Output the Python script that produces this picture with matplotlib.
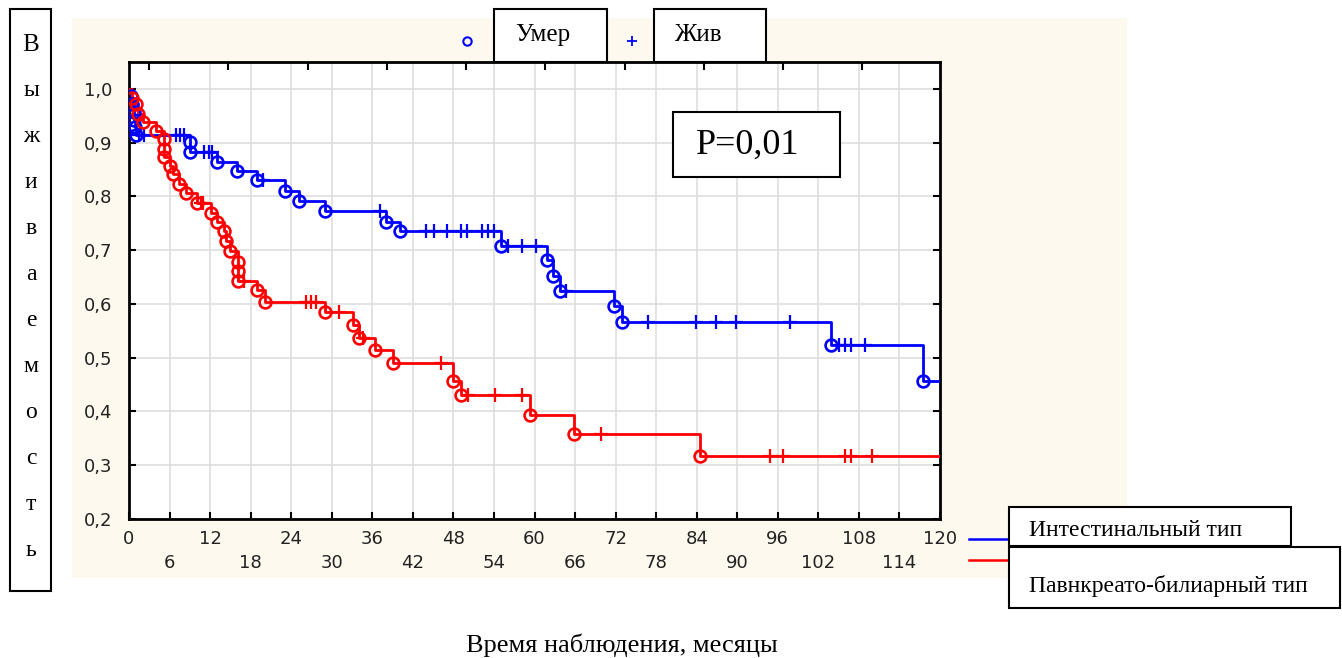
import numpy as np
import matplotlib.pyplot as plt
from matplotlib.patches import Rectangle
from matplotlib.ticker import MultipleLocator, FixedLocator, FuncFormatter

W, H = 1342, 658

# Интестинальный тип: моменты смерти, выживаемость после них, цензурированные
int_death_t = [0.3, 0.5, 0.7, 0.8, 0.9, 1.0, 9.0, 9.0, 13.0, 16.0, 19.0, 23.1,
               25.1, 29.0, 38.0, 40.1, 55.0, 61.8, 62.8, 63.8, 71.8, 72.9,
               103.8, 117.5]
int_surv = [0.986, 0.971, 0.957, 0.943, 0.929, 0.914, 0.901, 0.883, 0.864,
            0.847, 0.830, 0.810, 0.791, 0.773, 0.753, 0.735, 0.708, 0.681,
            0.652, 0.625, 0.596, 0.566, 0.523, 0.457]
int_cens_t = [1.5, 2.2, 7.0, 7.6, 8.1, 11.1, 11.8, 12.3, 19.9, 37.1, 44.0,
              45.2, 47.1, 49.1, 50.0, 52.2, 53.1, 54.0, 56.1, 58.2, 60.2,
              64.6, 76.8, 83.9, 86.9, 89.8, 97.8, 105.0, 106.0, 106.8, 108.9]

# Панкреато-билиарный тип
pb_death_t = [0.4, 1.1, 1.4, 2.1, 4.0, 5.2, 5.2, 5.2, 6.1, 6.5, 7.4, 8.4,
              10.0, 12.1, 13.0, 14.0, 14.4, 15.0, 16.2, 16.2, 16.2, 19.0,
              20.1, 29.0, 33.1, 34.1, 36.4, 39.1, 48.0, 49.1, 59.4, 65.8, 84.5]
pb_surv = [0.983, 0.972, 0.954, 0.939, 0.921, 0.906, 0.889, 0.873, 0.856,
           0.841, 0.824, 0.806, 0.788, 0.770, 0.752, 0.735, 0.717, 0.699,
           0.678, 0.661, 0.643, 0.626, 0.604, 0.585, 0.561, 0.537, 0.514,
           0.490, 0.457, 0.430, 0.394, 0.359, 0.318]
pb_cens_t = [10.6, 11.0, 17.0, 26.2, 26.9, 27.6, 31.0, 34.6, 46.2, 50.1,
             54.2, 58.2, 69.8, 94.9, 96.8, 105.9, 106.9, 109.9]

groups = ['Интестинальный тип', 'Павнкреато-билиарный тип']
colors = ['#0000ff', '#ff0000']
y_title = 'Выживаемость'
x_title = 'Время наблюдения, месяцы'
p_text = 'P=0,01'
t_max = 120

serif = 'Liberation Serif'

fig = plt.figure(figsize=(W / 100, H / 100), dpi=100)
fig.patch.set_facecolor('white')

# cream panel behind the plot
bg = fig.add_axes([0, 0, 1, 1], zorder=0)
bg.set_xlim(0, W)
bg.set_ylim(H, 0)
bg.axis('off')
bg.add_patch(Rectangle((72, 18), 1055, 560, facecolor='#fef9ee', edgecolor='none'))

ax = fig.add_axes([129 / W, 1 - 519 / H, 811 / W, 457 / H], zorder=1)
ax.set_facecolor('white')


def surv_at(times, surv, t):
    i = np.searchsorted(times, t, side='right')
    return 1.0 if i == 0 else surv[i - 1]


for t, s, c, col in [(int_death_t, int_surv, int_cens_t, colors[0]),
                     (pb_death_t, pb_surv, pb_cens_t, colors[1])]:
    t = np.array(t)
    s = np.array(s)
    ax.step(np.r_[0, t, t_max], np.r_[1.0, s, s[-1]], where='post',
            color=col, lw=2, zorder=3)
    ax.plot(t, s, 'o', ms=8.5, mfc='none', mec=col, mew=1.9, zorder=4)
    cs = [surv_at(t, s, v) for v in c]
    ax.plot(c, cs, '+', ms=10, mec=col, mew=1.6, zorder=4)

ax.set_xlim(0, t_max)
ax.set_ylim(0.2, 1.05)

ax.xaxis.set_major_locator(MultipleLocator(12))
ax.xaxis.set_minor_locator(FixedLocator(np.arange(6, 120, 12)))
ax.xaxis.set_minor_formatter(FuncFormatter(lambda v, p: f'{v:.0f}'))
ax.yaxis.set_major_locator(FixedLocator(np.arange(0.2, 1.01, 0.1)))
ax.yaxis.set_major_formatter(FuncFormatter(lambda v, p: f'{v:.1f}'.replace('.', ',')))

ax.grid(True, which='both', axis='x', color='#dedede', lw=1.2)
ax.grid(True, which='major', axis='y', color='#dedede', lw=1.2)
ax.set_axisbelow(True)

ax.tick_params(axis='x', which='major', direction='in', length=5, width=1.5,
               pad=8, labelsize=13, labelcolor='#222222')
ax.tick_params(axis='x', which='minor', direction='in', length=5, width=1.5,
               pad=25, labelsize=13, labelcolor='#222222')
ax.tick_params(axis='y', direction='in', length=5, width=1.5, right=True,
               pad=12, labelsize=13, labelcolor='#222222')
for sp in ax.spines.values():
    sp.set_linewidth(2)

top = ax.secondary_xaxis('top')
top.set_xticks([2.96, 14.69, 26.42, 38.15, 49.88, 61.61, 73.34, 85.07,
                96.8, 108.53])
top.set_xticklabels([])
top.tick_params(direction='in', length=6, width=1.5)

# overlay in pixel coordinates for boxes and captions
ov = fig.add_axes([0, 0, 1, 1], zorder=2)
ov.set_xlim(0, W)
ov.set_ylim(H, 0)
ov.axis('off')
ov.patch.set_alpha(0)


def box(x0, y0, x1, y1):
    ov.add_patch(Rectangle((x0, y0), x1 - x0, y1 - y0, facecolor='white',
                           edgecolor='black', lw=1.5, zorder=5))


# vertical axis caption
box(10, 9, 51, 591)
for i, ch in enumerate(y_title):
    ov.text(31, 45 + i * 46, ch, family=serif, fontsize=18 if i == 0 else 17,
            ha='center', va='center', zorder=6)

# marker legend
ov.plot([467], [41], 'o', ms=6, mfc='none', mec='#0000ff', mew=1.5, zorder=4)
ov.plot([499], [41], 'o', ms=6, mfc='none', mec='#555555', mew=1.5, zorder=4)
ov.plot([632], [41], '+', ms=7, mec='#0000ff', mew=1.3, zorder=4)
box(494, 9, 607, 62)
ov.text(515, 35, 'Умер', family=serif, fontsize=18, va='center', zorder=6)
box(654, 9, 766, 62)
ov.text(674, 35, 'Жив', family=serif, fontsize=18, va='center', zorder=6)

# p-value
box(673, 112, 840, 177)
ov.text(696, 145, p_text, family=serif, fontsize=26, va='center', zorder=6)

# group legend
ov.plot([969, 1009], [539, 539], color=colors[0], lw=1.8, zorder=4)
ov.plot([969, 1009], [560, 560], color=colors[1], lw=1.8, zorder=4)
box(1009, 507, 1291, 546)
ov.text(1029, 530, groups[0], family=serif, fontsize=17, va='center', zorder=6)
box(1009, 547, 1340, 608)
ov.text(1029, 586, groups[1], family=serif, fontsize=17, va='center', zorder=6)

ov.text(622, 645, x_title, family=serif, fontsize=19, ha='center',
        va='center', zorder=6)

fig.savefig('out.png', dpi=100)
